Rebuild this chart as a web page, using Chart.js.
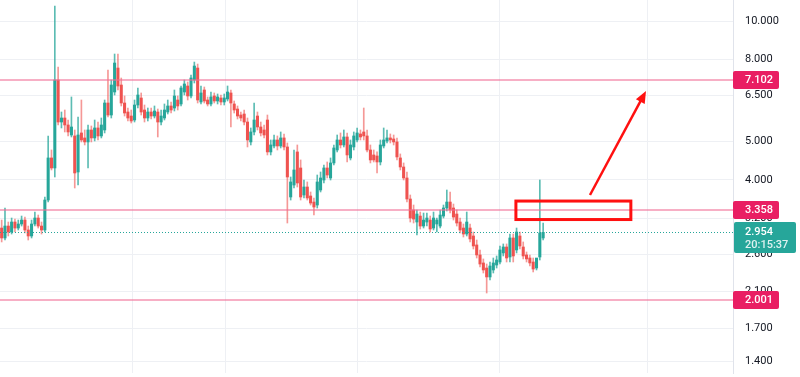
<!DOCTYPE html>
<html><head><meta charset="utf-8">
<script src="https://cdn.jsdelivr.net/npm/chart.js@4.4.0/dist/chart.umd.min.js"></script>
<style>html,body{margin:0;padding:0;background:#fff;overflow:hidden}#wrap{width:800px;height:377px;position:relative}</style>
</head><body><div id="wrap"><canvas id="c"></canvas></div>
<script>
// ---- data (prices) ----
const opens = [3.028,2.859,3.063,2.959,3.135,3.028,3.099,3.171,2.994,2.892,
3.099,3.208,3.063,2.994,3.559,4.537,4.282,7.115,5.583,5.714,
5.488,5.180,5.151,4.184,5.241,5.092,4.976,5.332,5.092,5.394,
5.151,5.332,6.230,5.813,6.639,7.624,6.912,6.230,5.915,5.780,
5.648,6.159,6.413,5.984,5.714,5.915,5.780,5.915,5.583,5.714,
5.915,6.124,6.053,6.339,6.195,6.639,6.873,6.488,7.115,7.624,
6.267,6.716,6.339,6.195,6.488,6.303,6.413,6.267,6.376,6.601,
6.195,6.018,5.813,5.847,5.583,4.976,5.271,5.780,5.425,5.332,
5.648,4.697,4.862,5.033,4.862,5.092,4.834,3.622,3.881,4.697,
4.282,3.664,3.837,3.643,3.518,3.458,3.771,3.995,4.282,4.042,
4.408,4.751,5.033,4.890,5.121,4.537,4.834,5.033,5.211,5.271,
5.151,4.751,4.616,4.589,4.433,4.862,5.004,5.092,5.062,4.976,
4.537,4.307,4.042,3.580,3.360,3.135,3.245,3.063,3.135,3.171,
3.028,3.099,3.063,3.245,3.399,3.518,3.399,3.283,3.135,3.028,
2.925,3.028,2.892,2.746,2.592,2.475,2.404,2.283,2.377,2.446,
2.489,2.622,2.714,2.562,2.859,2.668,2.892,2.714,2.592,2.547,
2.489,2.404,2.562,2.859];
const highs = [3.171,3.399,3.135,3.208,3.189,3.171,3.245,3.226,3.063,3.171,
3.321,3.264,3.135,3.622,5.151,4.751,10.90,7.668,5.915,5.984,
5.648,6.451,5.332,5.747,6.339,5.332,5.488,5.456,5.648,5.583,
5.714,6.339,7.537,7.115,8.266,8.266,7.197,6.488,6.053,5.984,
6.339,6.794,6.601,6.159,6.053,6.053,6.124,6.018,5.984,6.195,
6.339,6.267,6.716,6.488,6.873,7.115,7.033,7.323,7.891,7.801,
6.873,6.833,6.451,6.639,6.601,6.563,6.525,6.563,6.873,6.716,
6.303,6.124,5.915,5.984,5.714,5.394,6.230,5.915,5.583,5.488,
5.813,5.033,5.180,5.151,5.271,5.211,4.947,4.065,4.751,4.890,
4.485,3.995,3.950,3.728,3.601,4.112,4.184,4.357,4.433,4.537,
4.890,5.180,5.241,5.332,5.241,5.033,5.271,5.394,5.332,6.053,
5.332,4.890,4.751,4.697,5.033,5.394,5.332,5.211,5.180,5.092,
4.643,4.408,4.184,3.664,3.458,3.360,3.321,3.302,3.302,3.245,
3.321,3.208,3.360,3.458,3.771,3.728,3.478,3.360,3.208,3.099,
3.321,3.099,2.959,2.826,2.668,2.533,2.460,2.489,2.547,2.577,
2.730,2.762,2.762,2.925,2.925,3.028,2.959,2.794,2.637,2.592,
2.547,2.489,3.995,3.117];
const lows = [2.794,2.826,2.892,2.925,2.959,2.994,3.063,2.942,2.826,2.859,
3.063,3.028,2.925,2.959,3.518,4.233,4.065,5.488,5.394,5.271,
5.151,5.121,3.815,3.881,4.976,4.890,4.282,4.976,5.004,5.033,
5.092,5.241,5.747,5.714,6.525,6.716,6.124,5.780,5.616,5.551,
5.583,6.053,5.813,5.583,5.616,5.681,5.714,5.121,5.488,5.648,
5.847,5.881,5.949,5.984,6.124,6.525,6.339,6.413,6.993,6.230,
6.195,6.230,6.124,6.124,6.230,6.195,6.159,6.159,6.303,5.425,
5.881,5.681,5.616,5.488,4.834,4.890,5.180,5.332,5.151,5.092,
4.616,4.616,4.806,4.751,4.806,4.751,3.117,3.559,3.815,3.837,
3.559,3.601,3.559,3.458,3.264,3.399,3.728,3.927,4.042,3.995,
4.357,4.697,4.806,4.834,4.433,4.485,4.751,4.976,5.033,5.033,
4.697,4.408,4.433,4.160,4.357,4.806,4.947,4.947,4.890,4.485,
4.233,3.995,3.518,3.135,3.117,2.909,3.011,3.028,3.063,2.959,
2.994,2.959,3.028,3.208,3.341,3.302,3.171,3.063,2.942,2.875,
2.892,2.794,2.683,2.547,2.418,2.336,2.081,2.244,2.336,2.404,
2.460,2.577,2.489,2.489,2.489,2.622,2.683,2.533,2.489,2.432,
2.350,2.377,2.518,2.826];
const closes = [2.859,3.063,2.959,3.135,3.028,3.099,3.171,2.994,2.892,3.099,
3.208,3.063,2.994,3.559,4.537,4.282,7.115,5.583,5.714,5.488,
5.271,5.425,4.160,5.180,5.033,4.976,5.332,5.092,5.394,5.151,
5.488,6.230,5.813,6.912,7.846,6.873,6.230,5.881,5.714,5.616,
6.159,6.525,5.915,5.714,5.915,5.780,5.949,5.583,5.780,5.984,
6.124,5.984,6.488,6.124,6.794,6.953,6.488,7.197,7.712,6.339,
6.601,6.303,6.195,6.451,6.303,6.451,6.267,6.413,6.639,6.230,
5.984,5.780,5.714,5.583,5.033,5.271,5.648,5.425,5.241,5.180,
4.697,4.890,5.033,4.862,5.092,4.834,4.065,3.950,4.233,3.927,
3.622,3.837,3.601,3.498,3.418,3.950,4.042,4.282,4.112,4.408,
4.806,5.033,4.890,5.121,4.616,4.890,5.151,5.241,5.121,5.151,
4.751,4.485,4.485,4.433,4.890,5.033,5.092,5.033,4.976,4.563,
4.307,4.042,3.580,3.208,3.189,3.283,3.063,3.171,3.208,3.011,
3.208,3.171,3.264,3.399,3.518,3.360,3.226,3.117,2.994,2.925,
3.135,2.843,2.730,2.592,2.460,2.377,2.283,2.432,2.475,2.518,
2.668,2.714,2.547,2.859,2.577,2.959,2.730,2.577,2.533,2.475,
2.390,2.547,2.942,2.954];
const priceTicks = [1.4, 1.7, 2.1, 2.6, 3.2, 4, 5, 6.5, 8, 10];
const timeGridIdx = [39.5, 67.5, 107, 150, 194.5];
const levelPrices = [7.102, 3.358, 2.001];
const lastPrice = 2.954;
const countdownText = '20:15:37';
const zone = {i0: 154.8, i1: 189.4, top: 3.538, bottom: 3.18};
const arrowPts = {i0: 177.1, p0: 3.664, i1: 193.96, p1: 6.678};
const slotRange = [-0.5, 220.15];
const priceRange = [1.3116, 11.289];

// ---- styling ----
const UP = '#26a69a', DOWN = '#ef5350';
const UPW = 'rgba(38,166,154,0.75)', DOWNW = 'rgba(239,83,80,0.6)';
const FONT = 'Roboto, "Liberation Sans", sans-serif';

const isUp = i => closes[i] >= opens[i];
const wickData = opens.map((o, i) => ({x: i, y: [lows[i], highs[i]]}));
const bodyData = opens.map((o, i) => ({x: i, y: [opens[i], closes[i]]}));

const overlay = {
  id: 'overlay',
  afterDatasetsDraw(chart) {
    const {ctx, chartArea: a, scales: {x, y}} = chart;
    ctx.save();
    ctx.beginPath(); ctx.rect(a.left, a.top, a.right - a.left, a.bottom - a.top); ctx.clip();
    ctx.strokeStyle = 'rgba(240,110,150,0.55)';
    ctx.lineWidth = 2;
    levelPrices.forEach(v => {
      const py = Math.round(y.getPixelForValue(v));
      ctx.beginPath(); ctx.moveTo(a.left, py); ctx.lineTo(a.right, py); ctx.stroke();
    });
    const lp = Math.round(y.getPixelForValue(lastPrice)) + 0.5;
    ctx.strokeStyle = UP; ctx.lineWidth = 1; ctx.setLineDash([1, 2]);
    ctx.beginPath(); ctx.moveTo(a.left, lp); ctx.lineTo(a.right, lp); ctx.stroke();
    ctx.setLineDash([]);
    // zone rectangle
    const rx0 = x.getPixelForValue(zone.i0), rx1 = x.getPixelForValue(zone.i1);
    const ry0 = y.getPixelForValue(zone.top), ry1 = y.getPixelForValue(zone.bottom);
    ctx.strokeStyle = '#ff1010'; ctx.lineWidth = 3;
    ctx.strokeRect(rx0, ry0, rx1 - rx0, ry1 - ry0);
    // arrow
    const ax0 = x.getPixelForValue(arrowPts.i0), ay0 = y.getPixelForValue(arrowPts.p0);
    const ax1 = x.getPixelForValue(arrowPts.i1), ay1 = y.getPixelForValue(arrowPts.p1);
    const ang = Math.atan2(ay1 - ay0, ax1 - ax0);
    const hl = 12, hw = 5;
    ctx.strokeStyle = '#ff1010'; ctx.fillStyle = '#ff1010'; ctx.lineWidth = 2.5;
    ctx.beginPath(); ctx.moveTo(ax0, ay0);
    ctx.lineTo(ax1 - Math.cos(ang) * hl * 0.8, ay1 - Math.sin(ang) * hl * 0.8); ctx.stroke();
    ctx.beginPath();
    ctx.moveTo(ax1, ay1);
    ctx.lineTo(ax1 - Math.cos(ang) * hl + Math.sin(ang) * hw, ay1 - Math.sin(ang) * hl - Math.cos(ang) * hw);
    ctx.lineTo(ax1 - Math.cos(ang) * hl - Math.sin(ang) * hw, ay1 - Math.sin(ang) * hl + Math.cos(ang) * hw);
    ctx.closePath(); ctx.fill();
    ctx.restore();
  },
  afterDraw(chart) {
    const {ctx, chartArea: a, scales: {y}} = chart;
    ctx.save();
    ctx.font = '500 11px ' + FONT;
    ctx.textBaseline = 'middle';
    ctx.textAlign = 'left';
    levelPrices.forEach(v => {
      const py = Math.round(y.getPixelForValue(v));
      ctx.fillStyle = '#e91e63';
      ctx.beginPath(); ctx.roundRect(a.right, py - 9, 46, 18, 2); ctx.fill();
      ctx.fillStyle = '#ffffff';
      ctx.fillText(v.toFixed(3), a.right + 12, py + 0.5);
    });
    const lp = Math.round(y.getPixelForValue(lastPrice));
    ctx.fillStyle = UP;
    ctx.beginPath(); ctx.roundRect(a.right + 1, lp - 10, 62, 31, 2); ctx.fill();
    ctx.fillStyle = '#ffffff';
    ctx.fillText(lastPrice.toFixed(3), a.right + 12, lp);
    ctx.fillStyle = 'rgba(255,255,255,0.85)';
    ctx.fillText(countdownText, a.right + 12, lp + 13);
    ctx.restore();
  }
};

new Chart(document.getElementById('c'), {
  type: 'bar',
  data: {
    datasets: [
      {data: wickData, grouped: false, barThickness: 1, minBarLength: 1,
       backgroundColor: c => isUp(c.dataIndex) ? UPW : DOWNW, order: 2},
      {data: bodyData, grouped: false, barThickness: 2.4, minBarLength: 1,
       backgroundColor: c => isUp(c.dataIndex) ? UP : DOWN, order: 1}
    ]
  },
  options: {
    responsive: true, maintainAspectRatio: false, animation: false,
    layout: {padding: {left: 0, right: 0, top: 0, bottom: 4}},
    plugins: {legend: {display: false}, tooltip: {enabled: false}},
    scales: {
      x: {
        type: 'linear', min: slotRange[0], max: slotRange[1], offset: false,
        afterBuildTicks: ax => { ax.ticks = timeGridIdx.map(v => ({value: v})); },
        ticks: {display: false},
        grid: {color: '#eef0f4', drawTicks: false, offset: false},
        border: {display: false},
        afterFit: ax => { ax.height = 0; ax.paddingLeft = 0; ax.paddingRight = 0; }
      },
      y: {
        type: 'logarithmic', position: 'right', min: priceRange[0], max: priceRange[1],
        afterBuildTicks: ax => { ax.ticks = priceTicks.map(v => ({value: v})); },
        ticks: {autoSkip: false, padding: 12, color: '#131722',
                font: {size: 11, family: FONT}, callback: v => Number(v).toFixed(3)},
        grid: {color: '#eef0f4', drawTicks: false},
        border: {display: true, color: '#e0e3eb'},
        afterFit: ax => { ax.width = 67; ax.paddingTop = 0; ax.paddingBottom = 0; }
      }
    }
  },
  plugins: [overlay]
});
</script></body></html>
